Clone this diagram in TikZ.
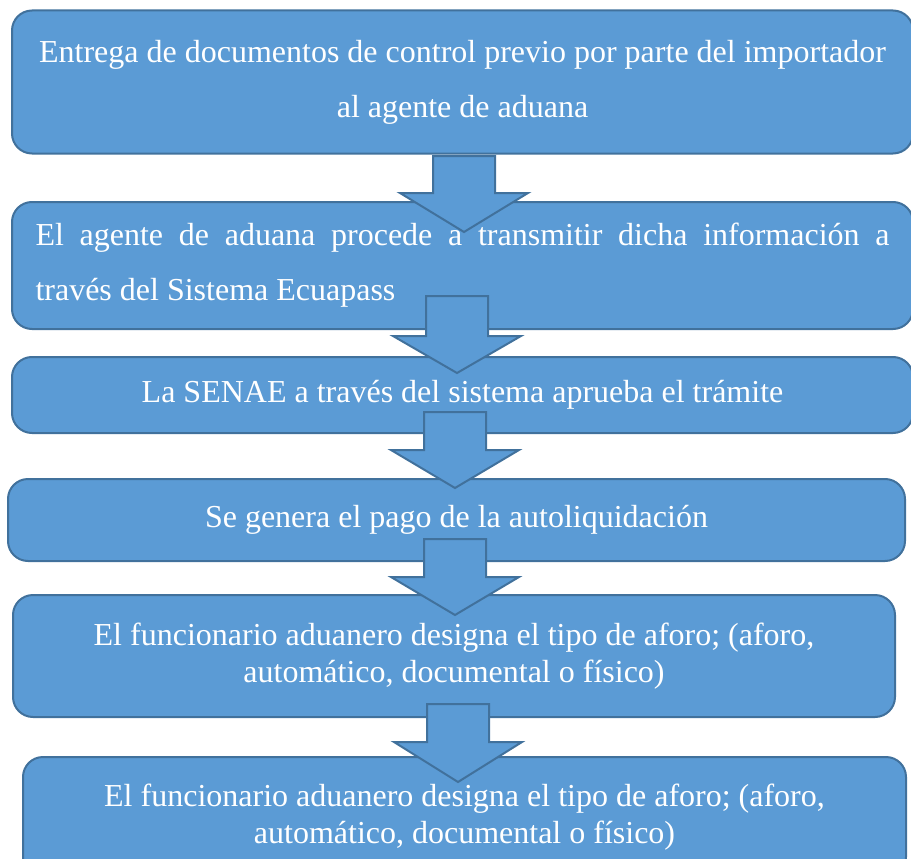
\documentclass[tikz,border=0pt]{standalone}
\usepackage{fontspec}
\setmainfont{Liberation Serif}
\usepackage{tikz}
\usetikzlibrary{positioning,calc}
\definecolor{cajafill}{RGB}{91,155,213}
\definecolor{cajaborde}{RGB}{65,113,156}
\tikzset{
    caja/.style={rectangle, rounded corners=20pt, draw=cajaborde, fill=cajafill, line width=2pt,
        text=white, font=\fontsize{32}{37}\selectfont, inner sep=0pt},
    flecha/.style={draw=cajaborde, fill=cajafill, line width=2pt, line join=miter},
}

\begin{document}
\begin{tikzpicture}[x=1pt, y=-1pt]
    \useasboundingbox (0,0) rectangle (911,859);
    % Boxes (top to bottom)
    \node[caja, minimum width=901pt, minimum height=143pt, text width=890pt, align=flush center,
        font=\fontsize{32}{55}\selectfont] (b1) at (462.5,82)
        {Entrega de documentos de control previo por parte del importador\\al agente de aduana};
    \node[caja, minimum width=901pt, minimum height=127pt, text width=854pt, align=justify,
        font=\fontsize{32}{55}\selectfont] (b2) at (462.5,265.5)
        {El agente de aduana procede a transmitir dicha información a\linebreak través del Sistema Ecuapass};
    \node[caja, minimum width=901pt, minimum height=76pt] (b3) at (462.5,395)
        {La SENAE a través del sistema aprueba el trámite};
    \node[caja, minimum width=897pt, minimum height=82pt] (b4) at (456.5,520)
        {Se genera el pago de la autoliquidación};
    \node[caja, minimum width=882pt, minimum height=122pt, align=flush center] (b5) at (454,656)
        {El funcionario aduanero designa el tipo de aforo; (aforo,\\automático, documental o físico)};
    \node[caja, minimum width=883pt, minimum height=120pt, align=flush center] (b6) at (464.5,817)
        {El funcionario aduanero designa el tipo de aforo; (aforo,\\automático, documental o físico)};
    % Block arrows between boxes
    \foreach \xc/\ya/\yb/\yc in {464/156/193/232, 457/296/336/373, 455/412/450/488,
                                 455/539/577/615, 458/704/742/782} {
        \draw[flecha] (\xc-31,\ya) -- (\xc+31,\ya) -- (\xc+31,\yb) -- (\xc+64,\yb)
            -- (\xc,\yc) -- (\xc-64,\yb) -- (\xc-31,\yb) -- cycle;
    }
\end{tikzpicture}
\end{document}
